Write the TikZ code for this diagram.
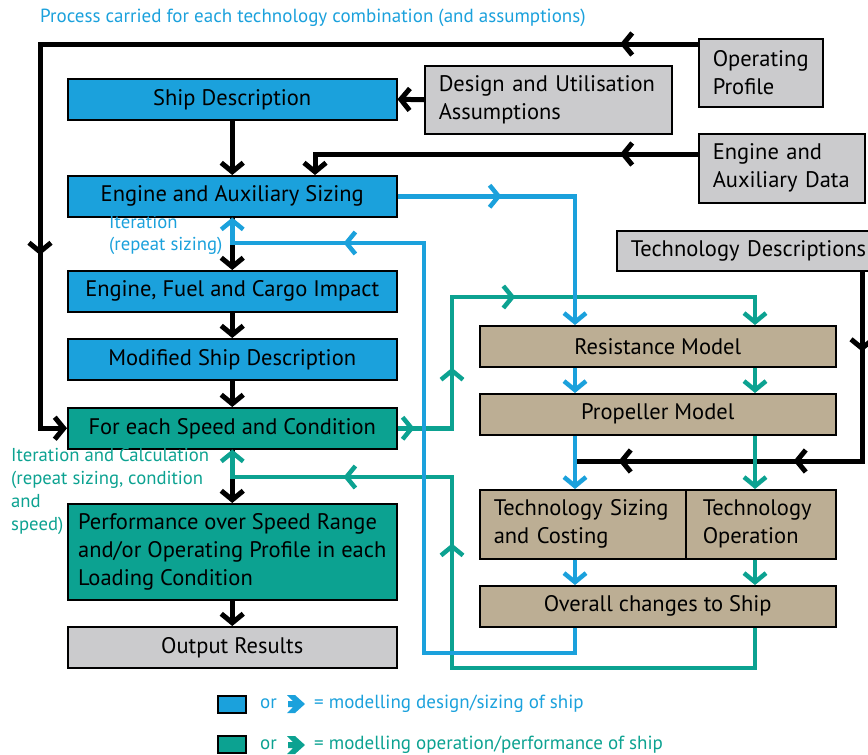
\documentclass[tikz,border=0pt]{standalone}
\usepackage{fontspec}
\setmainfont{PT Sans}
\usetikzlibrary{arrows.meta,decorations.markings}

\definecolor{sizeblue}{HTML}{1BA1DC}
\definecolor{opteal}{HTML}{0CA291}
\definecolor{modeltan}{HTML}{BCAE94}
\definecolor{inputgray}{HTML}{CBCBCD}

\begin{document}
\begin{tikzpicture}[x=1pt,y=-1pt,
    >={Straight Barb[length=9pt,width=22pt]},
    box/.style={draw=black,line width=1.5pt,inner sep=0pt,minimum height=41pt,anchor=north west,font=\fontsize{22.5}{28}\selectfont},
    design/.style={box,fill=sizeblue,minimum width=329pt},
    operate/.style={box,fill=opteal,minimum width=329pt},
    inputbox/.style={box,fill=inputgray,align=left,inner xsep=14pt},
    model/.style={box,fill=modeltan},
    blk/.style={line width=5pt,draw=black},
    bluel/.style={line width=4.5pt,draw=sizeblue},
    teall/.style={line width=4.5pt,draw=opteal},
    tipat/.style={postaction={decorate,decoration={markings,mark=at position #1 with {\arrow{>}}}}},
    legend/.style={font=\fontsize{19}{22}\selectfont,anchor=west,inner sep=0pt}]
    \useasboundingbox (0,0) rectangle (868,755);

    % Title
    \node (title) [anchor=west,inner sep=0pt,text=sizeblue,font=\fontsize{19}{22}\selectfont] at (40,18)
        {Process carried for each technology combination (and assumptions)};

    % Ship side
    \node (ship)    [design]  at (67,78)  {Ship Description};
    \node (sizing)  [design]  at (67,175) {Engine and Auxiliary Sizing};
    \node (impact)  [design]  at (67,270) {Engine, Fuel and Cargo Impact};
    \node (modship) [design]  at (67,338) {Modified Ship Description};
    \node (forEach) [operate] at (67,407) {For each Speed and Condition};
    \node (perf)    [operate,minimum height=96pt,align=left] at (67,503)
        {Performance over Speed Range\\and/or Operating Profile in each\\Loading Condition};
    \node (output)  [box,fill=inputgray,minimum width=329pt] at (67,626) {Output Results};

    % Inputs
    \node (dua)   [inputbox,text width=219pt,minimum height=68pt] at (424,65) {Design and Utilisation\\Assumptions};
    \node (op)    [inputbox,text width=96pt,minimum height=68pt]  at (698,38) {Operating\\Profile};
    \node (ead)   [inputbox,text width=138pt,minimum height=69pt] at (698,133) {Engine and\\Auxiliary Data};
    \node (tdesc) [inputbox,text width=260pt,minimum height=40pt] at (616,230) {Technology Descriptions};

    % Technology models
    \node (res) [model,minimum width=356pt] at (479,325) {Resistance Model};
    \node (prop) [model,minimum width=356pt] at (479,393) {Propeller Model};
    \node (tsz) [model,text width=178pt,inner xsep=14pt,align=left,minimum height=69pt] at (479,489) {Technology Sizing\\and Costing};
    \node (top) [model,text width=116pt,inner xsep=17pt,align=left,minimum height=69pt] at (685,489) {Technology\\Operation};
    \node (ov) [model,minimum width=356pt] at (479,585) {Overall changes to Ship};

    % Labels
    \node (itsize) [anchor=west,align=left,inner sep=0pt,text=sizeblue,font=\fontsize{18.7}{22}\selectfont] at (109,235)
        {Iteration\\(repeat sizing)};
    \node (itcalc) [anchor=west,align=left,inner sep=0pt,text=opteal,font=\fontsize{18.7}{23}\selectfont] at (11,491)
        {Iteration and Calculation\\(repeat sizing, condition\\and\\speed)};

    % Routing points
    \coordinate (bc) at (575,0);
    \coordinate (tc) at (755,0);
    \coordinate (opcorner) at (40,44);
    \coordinate (eacorner) at (315,154);
    \coordinate (tdcorner) at (862,461);
    \coordinate (bret) at (424,653);
    \coordinate (bup) at (424,243);
    \coordinate (tfeed) at (452,297);
    \coordinate (tret) at (452,668);
    \coordinate (tup) at (452,477);

    % Black flow
    \draw[blk,->,tipat=78pt,tipat=869pt] (op.west |- opcorner) -- (opcorner) |- (forEach.west);
    \draw[blk,->] (dua.west) -- (ship.east);
    \draw[blk,->,tipat=78pt] (ead.west |- eacorner) -- (eacorner) -- (eacorner |- sizing.north);
    \draw[blk,->] (ship) -- (sizing);
    \draw[blk,->] (sizing) -- (impact);
    \draw[blk,->] (impact) -- (modship);
    \draw[blk,->] (modship) -- (forEach);
    \draw[blk,->] (forEach) -- (perf);
    \draw[blk,->] (perf) -- (output);
    \draw[blk,tipat=80pt,tipat=258pt,tipat=433pt] (tdesc.south west -| tdcorner) -- (tdcorner) -- (tdcorner -| bc);

    % Operation / performance flow
    \draw[teall,->,tipat=17pt,tipat=115pt,tipat=249pt] (forEach.east) -| (tfeed) -| (res.north -| tc);
    \draw[teall,->] (res.south -| tc) -- (prop.north -| tc);
    \draw[teall,->] (prop.south -| tc) -- (top.north -| tc);
    \draw[teall,->] (top.south -| tc) -- (ov.north -| tc);
    \draw[teall,->,tipat=468pt,tipat=643pt] (ov.south -| tc) |- (tret) -- (tup) -- (tup -| forEach.south) -- (forEach.south);

    % Design / sizing flow
    \draw[bluel,->,tipat=104pt] (sizing.east) -| (res.north -| bc);
    \draw[bluel,->] (res.south -| bc) -- (prop.north -| bc);
    \draw[bluel,->] (prop.south -| bc) -- (tsz.north -| bc);
    \draw[bluel,->] (tsz.south -| bc) -- (ov.north -| bc);
    \draw[bluel,->,tipat=667pt] (ov.south -| bc) |- (bret) -- (bup) -- (bup -| sizing.south) -- (sizing.south);

    % Legend
    \draw[line width=1.5pt,fill=sizeblue] (218,696) rectangle (246,713);
    \node (orblue) [legend,text=sizeblue] at (260,704) {or};
    \fill[sizeblue] (287,695) -- (295,695) -- (305,704) -- (295,713) -- (287,713) -- (293,707) -- (288,707) -- (288,701) -- (293,701) -- cycle;
    \node (keyblue) [legend,text=sizeblue] at (314,704) {= modelling design/sizing of ship};
    \draw[line width=1.5pt,fill=opteal] (218,736) rectangle (246,753);
    \node (orteal) [legend,text=opteal] at (260,745) {or};
    \fill[opteal] (287,736) -- (295,736) -- (305,745) -- (295,754) -- (287,754) -- (293,748) -- (288,748) -- (288,742) -- (293,742) -- cycle;
    \node (keyteal) [legend,text=opteal] at (314,745) {= modelling operation/performance of ship};
\end{tikzpicture}
\end{document}
